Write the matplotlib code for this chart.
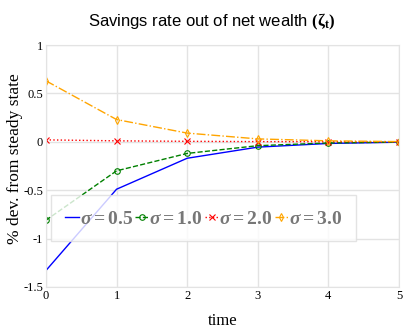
import matplotlib
matplotlib.use("Agg")
import matplotlib.pyplot as plt

t = [0, 1, 2, 3, 4, 5]
s05 = [-1.33, -0.49, -0.17, -0.055, -0.017, -0.004]
s10 = [-0.81, -0.30, -0.12, -0.04, -0.012, -0.003]
s20 = [0.02, 0.01, 0.005, 0.002, 0.001, 0.0]
s30 = [0.63, 0.23, 0.09, 0.03, 0.01, 0.002]
labels = [r"$\sigma = 0.5$", r"$\sigma = 1.0$", r"$\sigma = 2.0$", r"$\sigma = 3.0$"]
xticks = [0, 1, 2, 3, 4, 5]
yticks = [-1.5, -1, -0.5, 0, 0.5, 1]
yticklabels = ["-1.5", "-1", "-0.5", "0", "0.5", "1"]

plt.rcParams['mathtext.fontset'] = 'custom'
plt.rcParams['mathtext.it'] = 'Liberation Serif:italic:bold'
plt.rcParams['mathtext.rm'] = 'Liberation Serif:bold'
plt.rcParams['mathtext.bf'] = 'Liberation Serif:bold'

fig = plt.figure(figsize=(4.03, 3.31), dpi=100)
ax = fig.add_axes([0.114, 0.133, 0.876, 0.731])

ax.plot(t, s05, color='blue', lw=1.0, ls='-', label=labels[0])
ax.plot(t, s10, color='green', lw=1.0, ls='--', marker='o', mfc='none', ms=4, mew=0.8, label=labels[1])
ax.plot(t, s20, color='red', lw=1.0, ls=':', marker='x', ms=5, mew=0.8, label=labels[2])
ax.plot(t, s30, color='orange', lw=1.0, ls='-.', marker='d', mfc='none', ms=4, mew=0.8, label=labels[3])

ax.set_xlim(0, 5)
ax.set_ylim(-1.5, 1)
ax.set_xticks(xticks)
ax.set_yticks(yticks)
ax.set_yticklabels(yticklabels)
ax.grid(True, color='#e3e3e3', lw=1)
ax.set_axisbelow(True)
for sp in ax.spines.values():
    sp.set_color('#e3e3e3')
ax.tick_params(length=0, labelsize=9, pad=2)
for lab in ax.get_xticklabels() + ax.get_yticklabels():
    lab.set_family('Liberation Serif')

ax.set_xlabel('time', family='Liberation Serif', fontsize=12, labelpad=8)
ax.set_ylabel('% dev. from steady state', family='Liberation Serif', fontsize=12.5)
ax.yaxis.set_label_coords(-0.065, 0.53)
fig.text(0.525, 0.935, r'Savings rate out of net wealth $(\mathbf{\zeta_t})$', ha='center',
         va='center', family='Liberation Sans', fontsize=12)

leg = ax.legend(loc='center left', bbox_to_anchor=(0.01, 0.285), ncol=4, fontsize=14,
                handlelength=0.7, handletextpad=0.05, columnspacing=0.1,
                frameon=True, fancybox=False, borderpad=0.7, borderaxespad=0.1)
leg.get_frame().set_edgecolor('#dddddd')
leg.get_frame().set_alpha(0.8)
for txt in leg.get_texts():
    txt.set_color('#777777')

fig.savefig('out.png', dpi=100)
